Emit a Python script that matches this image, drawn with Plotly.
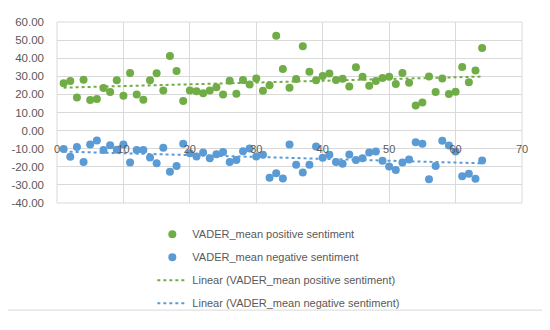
import numpy as np
import plotly.graph_objects as go

x_vals = list(range(1, 65))
pos_sent = [26.2, 27.4, 18.3, 28.1, 16.9, 17.4, 23.6, 21.3, 27.8, 19.3,
            31.8, 20.0, 17.0, 27.8, 31.7, 22.1, 41.2, 32.9, 16.3, 22.1,
            21.8, 20.7, 22.1, 23.9, 19.9, 27.6, 20.4, 28.0, 25.5, 28.8,
            22.0, 25.0, 52.4, 34.1, 23.7, 28.5, 46.6, 32.5, 27.8, 30.2,
            31.5, 28.0, 28.7, 24.3, 35.0, 29.7, 24.8, 27.4, 29.0, 29.7,
            25.8, 31.8, 26.5, 13.9, 15.5, 29.9, 21.3, 28.8, 20.2, 21.4,
            35.2, 26.7, 33.2, 45.7]
neg_sent = [-10.2, -14.4, -9.0, -17.3, -7.7, -5.5, -10.7, -8.1, -10.6, -7.7,
            -17.6, -10.7, -10.7, -14.8, -18.1, -9.5, -22.7, -19.5, -7.2, -12.5,
            -14.3, -12.1, -15.3, -13.0, -11.8, -17.4, -16.2, -11.4, -9.9, -14.3,
            -13.4, -26.1, -23.5, -26.4, -7.7, -18.8, -23.1, -18.8, -8.8, -15.0,
            -13.4, -17.4, -18.3, -13.2, -16.2, -15.3, -12.1, -11.6, -16.7, -19.9,
            -21.8, -17.6, -16.0, -6.5, -7.2, -26.9, -19.5, -5.6, -8.3, -11.6,
            -25.2, -23.8, -26.6, -16.5]
names = ["VADER_mean positive sentiment", "VADER_mean negative sentiment",
         "Linear (VADER_mean positive sentiment)", "Linear (VADER_mean negative sentiment)"]
x_ticks = [0, 10, 20, 30, 40, 50, 60, 70]
y_ticks = [-40, -30, -20, -10, 0, 10, 20, 30, 40, 50, 60]

GREEN = "#70AD47"
BLUE = "#5B9BD5"
TXT = "#595959"
GRID = "#D9D9D9"
FONT = "Liberation Sans"

xa = np.array(x_vals, dtype=float)
xl = np.array([xa.min(), xa.max()])
pp = np.polyfit(xa, np.array(pos_sent), 1)
pn = np.polyfit(xa, np.array(neg_sent), 1)

fig = go.Figure()
fig.add_trace(go.Scatter(x=x_vals, y=pos_sent, mode="markers", name=names[0],
                         marker=dict(color=GREEN, size=8), legendgroup="a"))
fig.add_trace(go.Scatter(x=x_vals, y=neg_sent, mode="markers", name=names[1],
                         marker=dict(color=BLUE, size=8), legendgroup="b"))
fig.add_trace(go.Scatter(x=xl, y=np.polyval(pp, xl), mode="lines", name=names[2],
                         line=dict(color=GREEN, width=2, dash="dot"), legendgroup="c"))
fig.add_trace(go.Scatter(x=xl, y=np.polyval(pn, xl), mode="lines", name=names[3],
                         line=dict(color=BLUE, width=2, dash="dot"), legendgroup="d"))

fig.update_layout(
    width=542, height=322,
    margin=dict(l=49, r=28, t=14, b=119),
    paper_bgcolor="white", plot_bgcolor="white",
    font=dict(family=FONT, size=11, color=TXT),
    showlegend=True,
    legend=dict(x=0.205, y=-0.092, xanchor="left", yanchor="top",
                font=dict(family=FONT, size=11, color=TXT),
                tracegroupgap=4, bgcolor="rgba(0,0,0,0)"),
    xaxis=dict(range=[0, 70], tickvals=x_ticks, ticktext=[str(v) for v in x_ticks],
               showgrid=True, gridcolor=GRID, gridwidth=1, zeroline=False,
               showline=False, ticks="", anchor="free", position=0.4, automargin=False,
               tickfont=dict(family=FONT, size=11, color=TXT), ticklabelstandoff=10),
    yaxis=dict(range=[-40, 60], tickvals=y_ticks, ticktext=["%.2f" % v for v in y_ticks],
               showgrid=True, gridcolor=GRID, gridwidth=1, zeroline=False,
               showline=False, ticks="", domain=[0, 1], automargin=False,
               tickfont=dict(family=FONT, size=11.5, color=TXT), ticklabelstandoff=12),
    shapes=[
        dict(type="rect", xref="paper", yref="paper", x0=0, x1=1, y0=0, y1=1,
             line=dict(color=GRID, width=1), layer="below"),
        dict(type="rect", xref="paper", yref="paper", x0=-0.1097, x1=1.0452,
             y0=-0.5917, y1=1.083, line=dict(color=GRID, width=1), layer="below"),
    ],
)

fig.write_html("out.html")
